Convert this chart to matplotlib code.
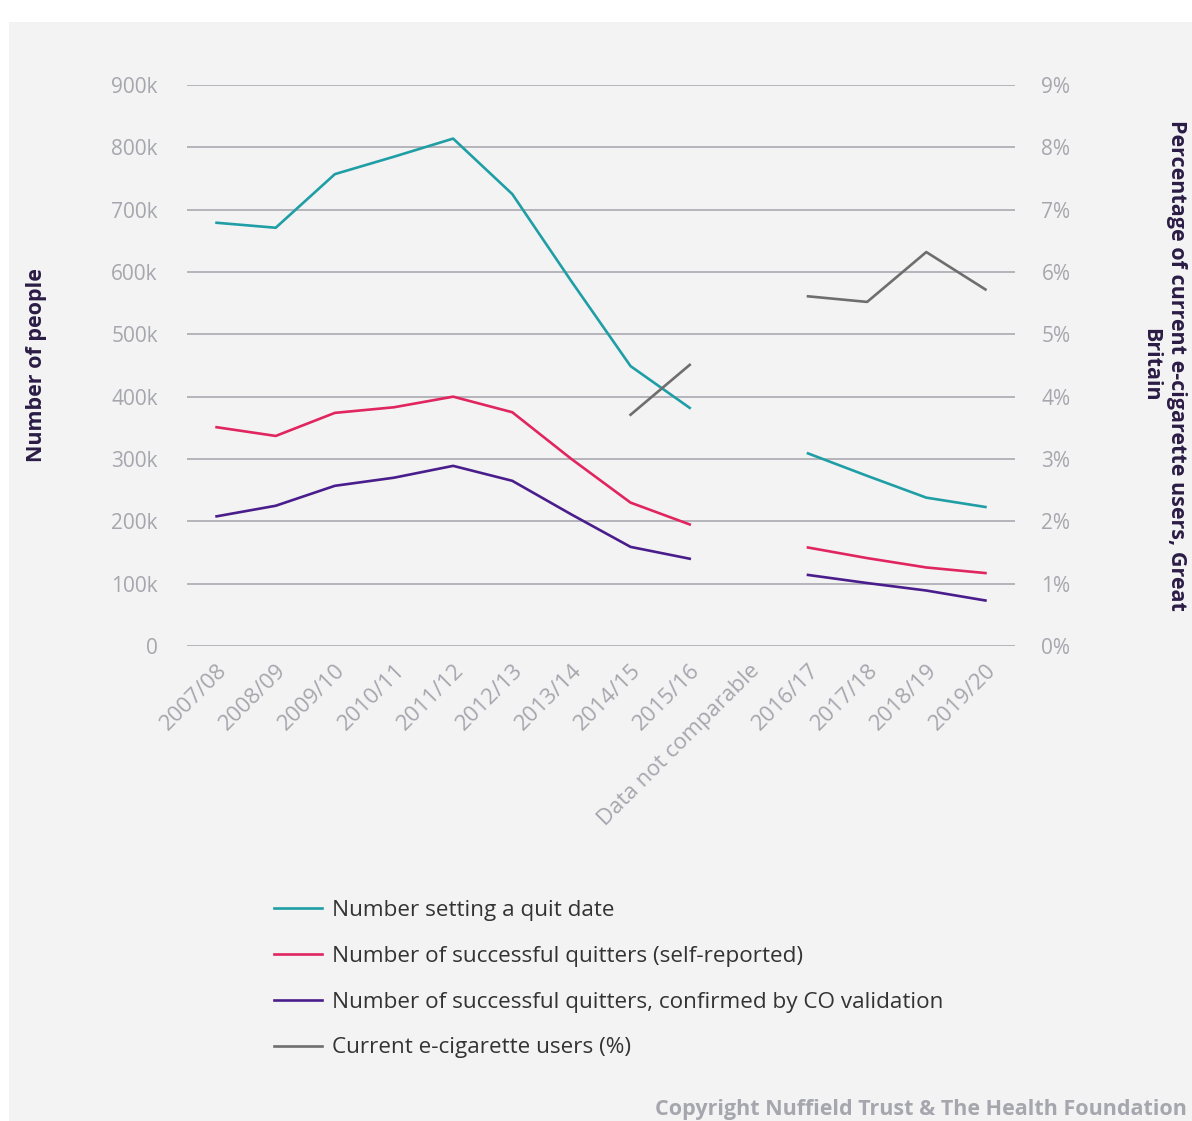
import numpy as np
import matplotlib
matplotlib.use("Agg")
import matplotlib.pyplot as plt
from matplotlib.patches import Rectangle

nan = np.nan

years = ["2007/08", "2008/09", "2009/10", "2010/11", "2011/12", "2012/13",
         "2013/14", "2014/15", "2015/16", "Data not comparable",
         "2016/17", "2017/18", "2018/19", "2019/20"]

quit_date = [679000, 671000, 757000, 785000, 814000, 725000, 585000, 449000, 382000,
             nan, 309000, 273000, 238000, 223000]
self_reported = [351000, 337000, 374000, 383000, 400000, 375000, 300000, 230000, 195000,
                 nan, 158000, 141000, 126000, 117000]
co_validated = [208000, 225000, 257000, 270000, 289000, 265000, 211000, 159000, 140000,
                nan, 114000, 101000, 89000, 73000]
ecig_pct = [nan, nan, nan, nan, nan, nan, nan, 3.71, 4.51,
            nan, 5.61, 5.52, 6.32, 5.72]

left_ticks = [0, 100000, 200000, 300000, 400000, 500000, 600000, 700000, 800000, 900000]
left_labels = ["0", "100k", "200k", "300k", "400k", "500k", "600k", "700k", "800k", "900k"]
right_ticks = [0, 1, 2, 3, 4, 5, 6, 7, 8, 9]
right_labels = [f"{t}%" for t in right_ticks]

series_labels = ["Number setting a quit date",
                 "Number of successful quitters (self-reported)",
                 "Number of successful quitters, confirmed by CO validation",
                 "Current e-cigarette users (%)"]

plt.rcParams['font.family'] = ['Open Sans', 'DejaVu Sans']

W, H = 1192, 1121
fig = plt.figure(figsize=(W / 100, H / 100), dpi=100, facecolor="white")
fig.patches.append(Rectangle((9 / W, 0), 1, 1 - 22 / H, transform=fig.transFigure,
                             facecolor="#f3f3f3", edgecolor="none", zorder=-10))

ax = fig.add_axes([187 / W, 1 - 646 / H, (1015 - 187) / W, (646 - 85) / H])
ax.set_facecolor("none")
ax2 = ax.twinx()

teal, pink, purple, grey = "#1f9ea6", "#e0255f", "#4a1d8c", "#6e6e6e"
x = np.arange(len(years))
lw = 1.9
l1, = ax.plot(x, quit_date, color=teal, lw=lw, label=series_labels[0])
l2, = ax.plot(x, self_reported, color=pink, lw=lw, label=series_labels[1])
l3, = ax.plot(x, co_validated, color=purple, lw=lw, label=series_labels[2])
l4, = ax2.plot(x, ecig_pct, color=grey, lw=lw, label=series_labels[3])

ax.set_xlim(-0.5, len(years) - 0.5)
ax.set_ylim(0, 900000)
ax2.set_ylim(0, 9)
ax.set_yticks(left_ticks)
ax.set_yticklabels(left_labels)
ax2.set_yticks(right_ticks)
ax2.set_yticklabels(right_labels)
ax.grid(axis="y", color="#b4b4ba", lw=1.4)
ax.set_axisbelow(True)

for a in (ax, ax2):
    for s in a.spines.values():
        s.set_visible(False)
ax.tick_params(axis="y", length=0, colors="#a6a6ae", labelsize=15, pad=21)
ax2.tick_params(axis="y", length=0, colors="#a6a6ae", labelsize=15, pad=19)

ax.set_xticks(x)
ax.set_xticklabels(years, rotation=45, ha="right", rotation_mode="anchor")
ax.tick_params(axis="x", length=0, colors="#a6a6ae", pad=10, labelsize=16)

fig.text(37 / W, 1 - 365 / H, "Number of people", rotation=90, ha="center", va="center",
         fontsize=15.5, fontweight="bold", color="#2b1c45")
fig.text(1164 / W, 1 - 365 / H, "Percentage of current e-cigarette users, Great\nBritain",
         rotation=-90, ha="center", va="center", multialignment="center",
         fontsize=15.5, fontweight="bold", color="#2b1c45", linespacing=1.3)

leg = fig.legend(handles=[l1, l2, l3, l4], loc="upper left",
                 bbox_to_anchor=(254 / W, 1 - 880 / H), frameon=False,
                 fontsize=16.2, labelcolor="#333333", handlelength=2.1,
                 handletextpad=0.45, labelspacing=1.1)

fig.text(1187 / W, 1 - 1110 / H, "Copyright Nuffield Trust & The Health Foundation",
         ha="right", va="center", fontsize=15.5, fontweight="bold", color="#a6a6ae")

fig.savefig("out.png", dpi=100, facecolor=fig.get_facecolor())
